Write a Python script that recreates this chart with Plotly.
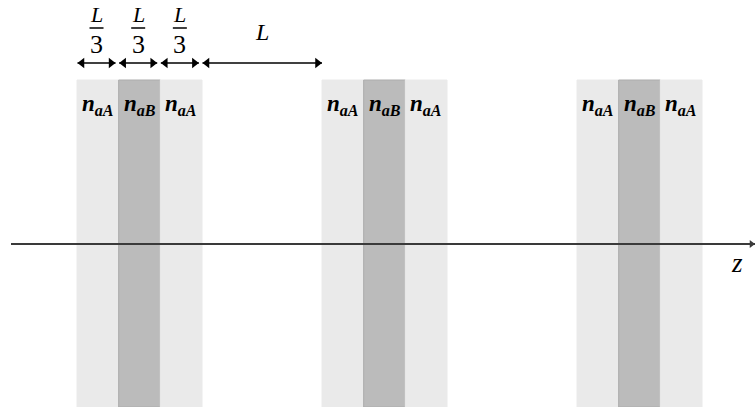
import plotly.graph_objects as go

# ---- data (units of L along z) ----
L = 1.0
group_starts = [0.0, 1.96, 4.0]              # start of each 3-layer cell
layer_subs = ["aA", "aB", "aA"]
layer_kinds = ["A", "B", "A"]
layer_width = L / 3

# dimension arrows along the top
dim_starts = [0.0, 1 / 3, 2 / 3, 1.0]
dim_ends = [1 / 3, 2 / 3, 1.0, 1.96]
dim_labels = ["L/3", "L/3", "L/3", "L"]

axis_label = "z"

# vertical extents (arbitrary units, z axis at 0)
stripe_top = 164
stripe_bottom = -163

colors = {"A": "#EAEAEA", "B": "#BBBBBB"}
edge = {"A": "#EAEAEA", "B": "#ADADAD"}

X_RANGE = [-0.616, 5.424]
Y_RANGE = [-163, 244]
W, H = 755, 407
px_per_L = W / (X_RANGE[1] - X_RANGE[0])

fig = go.Figure()

xs, ws, cs, ec = [], [], [], []
for g in group_starts:
    for i, k in enumerate(layer_kinds):
        xs.append(g + (i + 0.5) * layer_width)
        ws.append(layer_width)
        cs.append(colors[k])
        ec.append(edge[k])

fig.add_trace(go.Bar(
    x=xs, y=[stripe_top - stripe_bottom] * len(xs), base=[stripe_bottom] * len(xs),
    width=ws, marker=dict(color=cs, line=dict(color=ec, width=1)),
    hoverinfo="skip", showlegend=False,
))

annotations = []
shapes = []
serif = "Liberation Serif"

# layer labels
for g in group_starts:
    for i, sub in enumerate(layer_subs):
        annotations.append(dict(
            x=g + (i + 0.5) * layer_width, y=139, xref="x", yref="y",
            text=f"<b><i>n</i></b><sub><b><i>{sub}</i></b></sub>",
            showarrow=False, font=dict(family=serif, size=23, color="black"),
        ))

# dimension arrows + labels
arrow_y = 181
head = 9  # marker size in px
tip = (head / 2) / px_per_L
for s, e, lab in zip(dim_starts, dim_ends, dim_labels):
    gap = 0.025 if lab != "L" else 0.0
    x0, x1 = s + 0.004, e - gap
    fig.add_trace(go.Scatter(
        x=[x0, x1], y=[arrow_y, arrow_y], mode="lines",
        line=dict(color="black", width=1.6), hoverinfo="skip", showlegend=False,
    ))
    fig.add_trace(go.Scatter(
        x=[x0 + tip, x1 - tip], y=[arrow_y, arrow_y], mode="markers",
        marker=dict(symbol=["triangle-left", "triangle-right"], size=head,
                    color="black", line=dict(width=0)),
        hoverinfo="skip", showlegend=False, cliponaxis=False,
    ))
    c = (x0 + x1) / 2
    if lab == "L":
        annotations.append(dict(
            x=c, y=212, xref="x", yref="y", text="<i>L</i>", showarrow=False,
            font=dict(family=serif, size=24, color="black"),
        ))
    else:
        annotations.append(dict(
            x=c, y=230, xref="x", yref="y", text="<i>L</i>", showarrow=False,
            font=dict(family=serif, size=22, color="black"),
        ))
        annotations.append(dict(
            x=c, y=200, xref="x", yref="y", text="3", showarrow=False,
            font=dict(family=serif, size=26, color="black"),
        ))
        shapes.append(dict(
            type="line", xref="x", yref="y", x0=c - 0.056, x1=c + 0.056,
            y0=216, y1=216, line=dict(color="black", width=1.5),
        ))

# z axis
z_start, z_end = -0.528, X_RANGE[1]
fig.add_trace(go.Scatter(
    x=[z_start, z_end], y=[0, 0], mode="lines",
    line=dict(color="#3A3A3A", width=2), hoverinfo="skip", showlegend=False,
))
fig.add_trace(go.Scatter(
    x=[z_end - 3.5 / px_per_L], y=[0], mode="markers",
    marker=dict(symbol="triangle-right", size=7, color="#3A3A3A", line=dict(width=0)),
    hoverinfo="skip", showlegend=False, cliponaxis=False,
))
annotations.append(dict(
    x=5.28, y=-19, xref="x", yref="y", text=f"<i>{axis_label}</i>",
    showarrow=False, font=dict(family=serif, size=27, color="black"),
))

fig.update_layout(
    width=W, height=H, margin=dict(l=0, r=0, t=0, b=0),
    paper_bgcolor="white", plot_bgcolor="white",
    xaxis=dict(range=X_RANGE, visible=False, fixedrange=True),
    yaxis=dict(range=Y_RANGE, visible=False, fixedrange=True),
    annotations=annotations, shapes=shapes, showlegend=False, barmode="overlay",
)

fig.write_html("out.html", config={"displayModeBar": False},
               post_script="document.body.style.margin='0';document.body.style.overflow='hidden';")
